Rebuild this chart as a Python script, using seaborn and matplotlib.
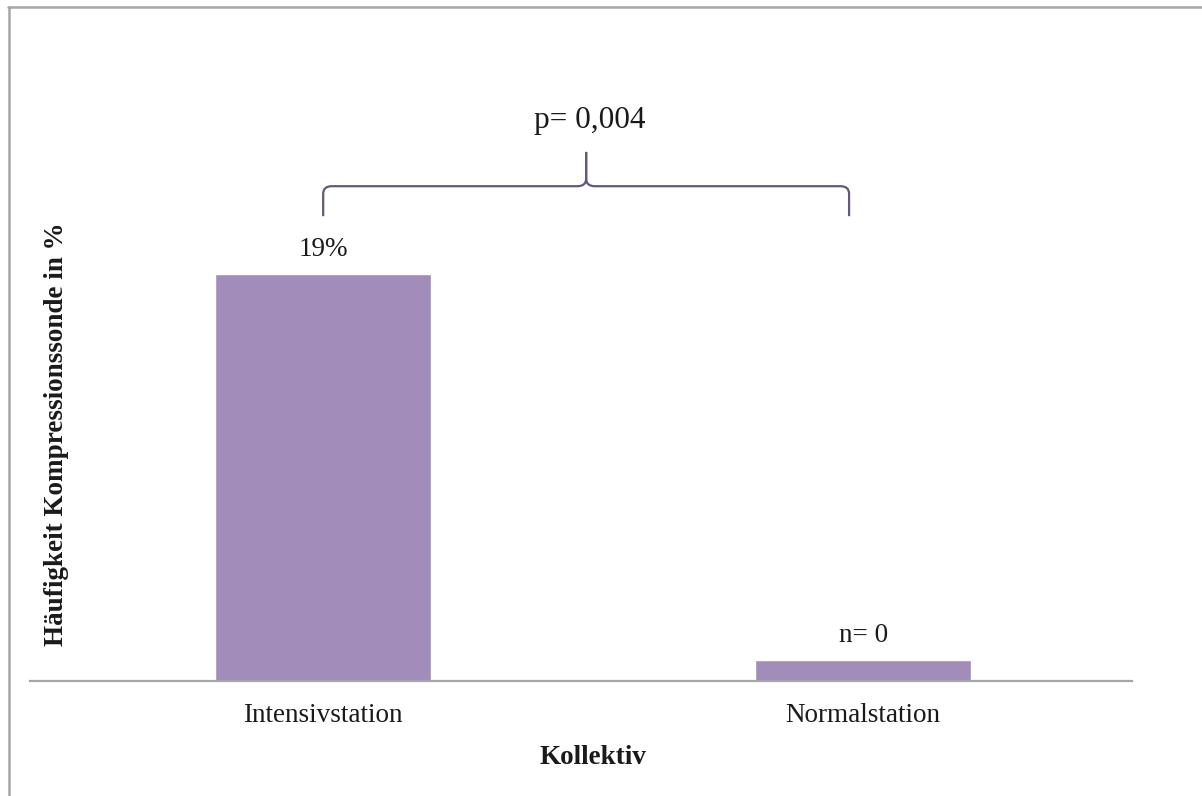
import matplotlib
matplotlib.use("Agg")
import matplotlib.pyplot as plt
from matplotlib.path import Path
from matplotlib.patches import PathPatch
from matplotlib.lines import Line2D
import seaborn as sns
import pandas as pd

# Data
categories = ["Intensivstation", "Normalstation"]
values = [19, 1]
bar_texts = ["19%", "n= 0"]
p_text = "p= 0,004"
x_label = "Kollektiv"
y_label = "Häufigkeit Kompressionssonde in %"

bar_color = "#a28dba"
brace_color = "#65587a"
axis_gray = "#a6a6a6"

sns.set_theme(style="white")
plt.rcParams["font.family"] = ["Liberation Serif", "DejaVu Serif"]

W, H = 1202, 796
fig = plt.figure(figsize=(W / 100, H / 100), dpi=100)
ax = fig.add_axes([30 / W, (H - 681) / H, 1102 / W, (681 - 38.4) / H])

df = pd.DataFrame({"Kollektiv": categories, "Wert": values})
sns.barplot(data=df, x="Kollektiv", y="Wert", color=bar_color,
            saturation=1, width=0.4, ax=ax)

ax.set_xlim(-0.543, 1.498)
ax.set_ylim(0, 30)

# value labels above bars
for i, (v, t) in enumerate(zip(values, bar_texts)):
    ax.annotate(t, xy=(i, v), xytext=(0, 13), textcoords="offset points",
                ha="center", va="baseline", fontsize=19.5, color="#1a1a1a")

# curly brace spanning both groups
x0, x1 = 0.0, 0.974
xm = (x0 + x1) / 2
yb, yh, yp = 21.7, 23.1, 24.7
rx, ry = 0.016, 0.35
verts = [
    (x0, yb), (x0, yh - ry), (x0, yh), (x0 + rx, yh),
    (xm - rx, yh), (xm, yh), (xm, yh + ry), (xm, yp),
    (x1, yb), (x1, yh - ry), (x1, yh), (x1 - rx, yh),
    (xm + rx, yh), (xm, yh), (xm, yh + ry), (xm, yp),
]
codes = [
    Path.MOVETO, Path.LINETO, Path.CURVE3, Path.CURVE3,
    Path.LINETO, Path.CURVE3, Path.CURVE3, Path.LINETO,
    Path.MOVETO, Path.LINETO, Path.CURVE3, Path.CURVE3,
    Path.LINETO, Path.CURVE3, Path.CURVE3, Path.LINETO,
]
ax.add_patch(PathPatch(Path(verts, codes), fill=False, edgecolor=brace_color,
                       linewidth=1.6, capstyle="butt", joinstyle="round",
                       clip_on=False))
ax.text(0.493, 25.8, p_text, ha="center", va="baseline", fontsize=22.5,
        color="#1a1a1a")

# axes styling
for side in ("left", "top", "right"):
    ax.spines[side].set_visible(False)
ax.spines["bottom"].set_color(axis_gray)
ax.spines["bottom"].set_linewidth(1.6)
ax.set_yticks([])
ax.tick_params(axis="x", length=0, pad=16, labelsize=19.5, labelcolor="#1a1a1a")

ax.set_xlabel(x_label, fontsize=19.5, fontweight="bold", color="#1a1a1a")
ax.xaxis.label.set_va("baseline")
ax.xaxis.set_label_coords((593 - 30) / 1102, (681 - 764) / 642.6)

ax.set_ylabel(y_label, fontsize=19.5, fontweight="bold", color="#1a1a1a")
ax.yaxis.label.set_va("center")
ax.yaxis.set_label_coords((57 - 30) / 1102, (681 - 434) / 642.6)

# frame lines along the top and left edges of the figure
fig.add_artist(Line2D([8 / W, 1], [1 - 7 / H, 1 - 7 / H], color=axis_gray,
                      linewidth=1.8, transform=fig.transFigure))
fig.add_artist(Line2D([9 / W, 9 / W], [0, 1 - 7 / H], color=axis_gray,
                      linewidth=1.8, transform=fig.transFigure))

fig.savefig("out.png", dpi=100, facecolor="white")
